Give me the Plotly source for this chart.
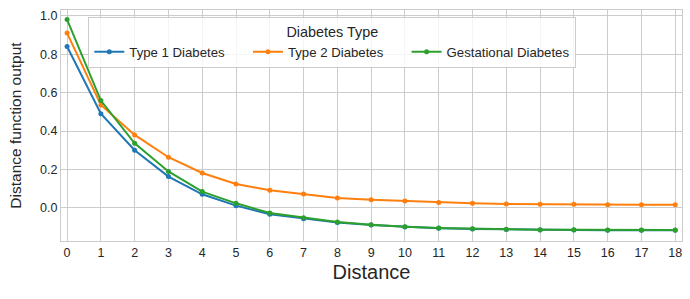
import plotly.graph_objects as go

distance = list(range(19))
type1 = [0.84, 0.49, 0.30, 0.163, 0.071, 0.012, -0.033, -0.056, -0.076, -0.089, -0.099,
         -0.106, -0.109, -0.112, -0.115, -0.115, -0.116, -0.116, -0.116]
type2 = [0.91, 0.536, 0.38, 0.264, 0.182, 0.125, 0.092, 0.073, 0.052, 0.042, 0.036,
         0.028, 0.025, 0.021, 0.019, 0.019, 0.017, 0.016, 0.016]
gest = [0.98, 0.559, 0.336, 0.19, 0.085, 0.024, -0.026, -0.051, -0.073, -0.088, -0.098,
        -0.104, -0.108, -0.111, -0.114, -0.114, -0.115, -0.115, -0.115]

series = [("Type 1 Diabetes", type1, "#1f77b4"),
          ("Type 2 Diabetes", type2, "#ff7f0e"),
          ("Gestational Diabetes", gest, "#2ca02c")]

pad = "\u00a0" * 5  # spacing between horizontal legend entries
fig = go.Figure()
for i, (name, vals, col) in enumerate(series):
    label = name + (pad if i < len(series) - 1 else "")
    fig.add_trace(go.Scatter(x=distance, y=vals, name=label, mode="lines+markers",
                             line=dict(color=col, width=2),
                             marker=dict(color=col, size=5)))

font = "Liberation Sans, Arial, sans-serif"
axis_common = dict(showgrid=True, gridcolor="#cccccc", gridwidth=1,
                   showline=True, linecolor="#cccccc", linewidth=1, mirror=True,
                   zeroline=False, ticks="", tickfont=dict(size=12.5, color="#262626", family=font))
fig.update_layout(
    width=690, height=299,
    margin=dict(l=61, r=8, t=10, b=58),
    paper_bgcolor="white", plot_bgcolor="white",
    font=dict(family=font, color="#262626"),
    xaxis=dict(range=[-0.18, 18.2], tickmode="array", tickvals=distance,
               title=dict(text="Distance", font=dict(size=20), standoff=5), **axis_common),
    yaxis=dict(range=[-0.172, 1.03], tickmode="array", tickvals=[0, 0.2, 0.4, 0.6, 0.8, 1.0],
               tickformat=".1f", automargin=False,
               title=dict(text="Distance function output", font=dict(size=15.5), standoff=14),
               **axis_common),
    legend=dict(orientation="h", x=0.044, y=0.97, xanchor="left", yanchor="top",
                bgcolor="rgba(255,255,255,0.8)", bordercolor="#cccccc", borderwidth=1,
                font=dict(size=13.2, color="#262626"),
                title=dict(text="Diabetes Type", side="top center", font=dict(size=14.4)),
                itemwidth=30),
)
fig.write_html("out.html", config={"displayModeBar": False},
               post_script="document.body.style.margin='0px';")
